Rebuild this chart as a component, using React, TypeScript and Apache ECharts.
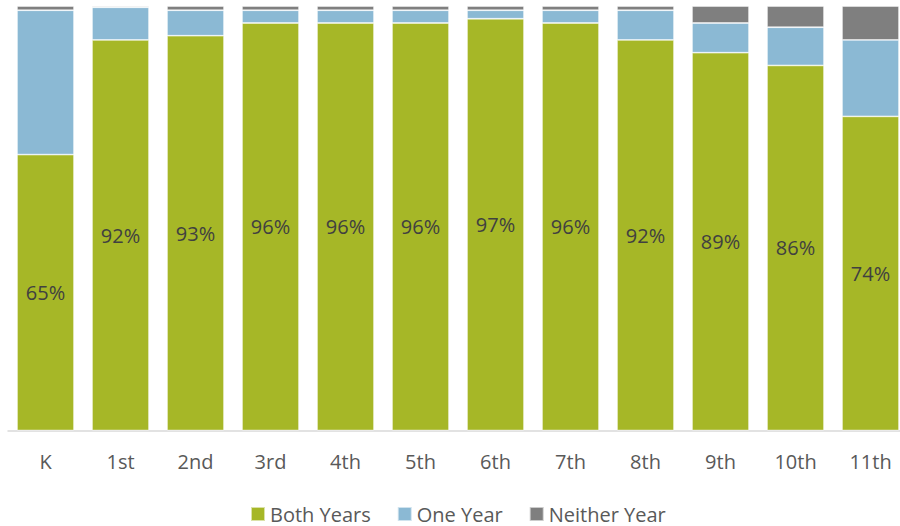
import React, { useEffect, useRef } from "react";
import * as echarts from "echarts";

const categories = ["K", "1st", "2nd", "3rd", "4th", "5th", "6th", "7th", "8th", "9th", "10th", "11th"];
const bothYears = [65, 92, 93, 96, 96, 96, 97, 96, 92, 89, 86, 74];
const oneYear = [34, 7.7, 6, 3, 3, 3, 2, 3, 7, 7, 9, 18];
const neitherYear = [1, 0.3, 1, 1, 1, 1, 1, 1, 1, 4, 5, 8];

const FONT = "'Open Sans', 'Liberation Sans', sans-serif";

export default function App() {
  const ref = useRef<HTMLDivElement>(null);
  useEffect(() => {
    if (!ref.current) return;
    const chart = echarts.init(ref.current, undefined, { renderer: "svg" });
    const itemBorder = { borderColor: "rgba(255,255,255,0.6)", borderWidth: 0.8 };
    chart.setOption({
      animation: false,
      backgroundColor: "#ffffff",
      grid: { left: 8, right: 0, top: 6, bottom: 95.5, containLabel: false },
      legend: {
        data: ["Both Years", "One Year", "Neither Year"],
        top: 499,
        left: 245,
        itemWidth: 14,
        itemHeight: 14,
        itemGap: 26,
        icon: "rect",
        textStyle: { fontFamily: FONT, fontSize: 20, color: "#595959" },
      },
      xAxis: {
        type: "category",
        data: categories,
        axisLine: { lineStyle: { color: "#D9D9D9", width: 1.5 } },
        axisTick: { show: false },
        axisLabel: { fontFamily: FONT, fontSize: 20, color: "#595959", margin: 21 },
      },
      yAxis: { type: "value", min: 0, max: 100, show: false },
      series: [
        {
          name: "Both Years",
          type: "bar",
          stack: "total",
          data: bothYears,
          barWidth: 57,
          itemStyle: { color: "#A6B727", ...itemBorder },
          label: {
            show: true,
            position: "inside",
            formatter: "{c}%",
            fontFamily: FONT,
            fontSize: 20,
            color: "#404040",
          },
        },
        {
          name: "One Year",
          type: "bar",
          stack: "total",
          data: oneYear,
          barWidth: 57,
          itemStyle: { color: "#8BB9D4", ...itemBorder },
        },
        {
          name: "Neither Year",
          type: "bar",
          stack: "total",
          data: neitherYear,
          barWidth: 57,
          itemStyle: { color: "#7F7F7F", ...itemBorder },
        },
      ],
    });
    return () => chart.dispose();
  }, []);
  return (
    <div style={{ position: "absolute", left: 0, top: 0, width: 900, height: 526, overflow: "hidden" }}>
      <div ref={ref} style={{ width: 908, height: 526 }} />
    </div>
  );
}
